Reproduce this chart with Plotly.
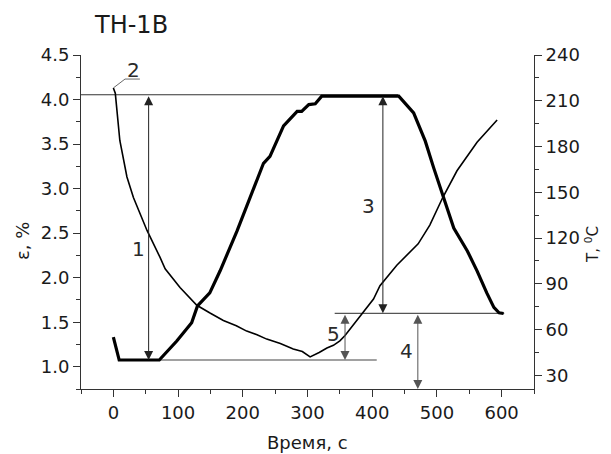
import plotly.graph_objects as go

# thin curve: strain, left axis
time_eps = [0, 3, 10, 21, 31, 52, 72, 80, 103, 129, 150, 170, 190, 206, 222, 237, 258, 278, 292, 304,
            318, 330, 340, 350, 358, 384, 402, 412, 438, 471, 489, 509, 531, 562, 593]
eps = [4.13, 4.07, 3.54, 3.13, 2.90, 2.53, 2.23, 2.10, 1.89, 1.69, 1.60, 1.52, 1.46, 1.40, 1.36, 1.31,
       1.26, 1.20, 1.17, 1.11, 1.16, 1.21, 1.24, 1.29, 1.35, 1.59, 1.76, 1.91, 2.14, 2.38, 2.59, 2.90,
       3.20, 3.52, 3.77]

# thick curve: temperature, right axis
time_T = [0, 9, 71, 98, 121, 130, 149, 165, 191, 211, 232, 242, 263, 284, 291, 302, 312, 322,
          441, 464, 482, 495, 510, 526, 547, 562, 577, 588, 596, 603]
temp = [55, 40, 40, 52.5, 64.5, 75.5, 84, 98.5, 124.5, 146.5, 169, 173.5, 193.5, 203, 203, 207.5,
        208, 213, 213, 202, 183.5, 166, 147.5, 126.5, 111.5, 98.5, 84, 74.5, 71, 70.5]

# reference levels (strain units) and their extents
lvl_top, lvl_mid, lvl_low, lvl_axis = 4.054, 1.60, 1.075, 0.75
top_line = ([-50, 440], [lvl_top, lvl_top])
low_line = ([9, 407], [lvl_low, lvl_low])
mid_line = ([342, 604], [lvl_mid, lvl_mid])

# dimension arrows: label, x, y from, y to, label x, label y
arrows = [
    ("1", 54.5, lvl_top, lvl_low, 38.5, 2.32),
    ("3", 416.5, lvl_top, lvl_mid, 394, 2.81),
    ("4", 470.5, lvl_mid, lvl_axis, 453, 1.18),
    ("5", 358, lvl_mid, lvl_low, 340, 1.37),
]
arrow_colors = {"1": "#222", "3": "#222", "4": "#555", "5": "#555"}

font_family = "DejaVu Sans"
ink = "#1a1a1a"

fig = go.Figure()

fig.add_trace(go.Scatter(x=top_line[0], y=top_line[1], mode="lines",
                         line=dict(color="#333", width=1.1), yaxis="y", showlegend=False))
fig.add_trace(go.Scatter(x=low_line[0], y=low_line[1], mode="lines",
                         line=dict(color="#444", width=1.1), yaxis="y", showlegend=False))
fig.add_trace(go.Scatter(x=mid_line[0], y=mid_line[1], mode="lines",
                         line=dict(color="#555", width=1.3), yaxis="y", showlegend=False))

# leader for label 2
fig.add_trace(go.Scatter(x=[0, 18, 41], y=[4.13, 4.23, 4.23], mode="lines",
                         line=dict(color="#444", width=0.8), yaxis="y", showlegend=False))

fig.add_trace(go.Scatter(x=time_eps, y=eps, mode="lines",
                         line=dict(color="black", width=1.6), yaxis="y", showlegend=False))
fig.add_trace(go.Scatter(x=time_T, y=temp, mode="lines",
                         line=dict(color="black", width=3.2), yaxis="y2", showlegend=False))

annotations = []
for label, x, y0, y1, lx, ly in arrows:
    annotations.append(dict(x=x, y=y1, ax=x, ay=y0, xref="x", yref="y", axref="x", ayref="y",
                            text="", showarrow=True, arrowhead=2, arrowside="end+start",
                            arrowsize=1.8, arrowwidth=1, arrowcolor=arrow_colors[label]))
    annotations.append(dict(x=lx, y=ly, xref="x", yref="y", text=label, showarrow=False,
                            font=dict(family=font_family, size=20, color="#2a2a2a")))
annotations.append(dict(x=31, y=4.33, xref="x", yref="y", text="2", showarrow=False,
                        font=dict(family=font_family, size=20, color="#2a2a2a")))

# titles, placed by pixel centre
titles = [
    ("TH-1B", 131, 25, 0, 24),
    ("Время, с", 307.5, 442, 0, 18),
    ("ε, %", 22, 241, -90, 18),
    ("T, <sup>0</sup>C", 592, 245, -90, 15),
]

W, H = 611, 454
ml, mr, mt, mb = 81, 77, 55, 65
pw, ph = W - ml - mr, H - mt - mb
for text, px, py, ang, size in titles:
    annotations.append(dict(x=(px - ml) / pw, y=(H - mb - py) / ph, xref="paper", yref="paper",
                            xanchor="center", yanchor="middle", text=text, showarrow=False,
                            textangle=ang, font=dict(family=font_family, size=size, color=ink)))

axis_common = dict(showline=True, linecolor="#333", linewidth=1, ticks="outside", ticklen=7,
                   tickcolor="#333", showgrid=False, zeroline=False,
                   tickfont=dict(family=font_family, size=18, color=ink))

fig.update_layout(
    width=W, height=H,
    margin=dict(l=ml, r=mr, t=mt, b=mb, autoexpand=False),
    paper_bgcolor="white", plot_bgcolor="white",
    xaxis=dict(range=[-50, 650], tick0=0, dtick=100,
               minor=dict(ticks="outside", ticklen=4, dtick=50, tick0=0, tickcolor="#333"),
               **axis_common),
    yaxis=dict(range=[0.75, 4.5], tick0=1.0, dtick=0.5, tickformat=".1f",
               minor=dict(ticks="outside", ticklen=4, dtick=0.25, tick0=0, tickcolor="#333"),
               **axis_common),
    yaxis2=dict(range=[21, 240], tick0=30, dtick=30, overlaying="y", side="right", anchor="x",
                minor=dict(ticks="outside", ticklen=4, dtick=15, tick0=0, tickcolor="#333"),
                **axis_common),
    annotations=annotations,
    showlegend=False,
)

fig.write_html("out.html", config={"displayModeBar": False},
               post_script="document.body.style.margin='0px';")
